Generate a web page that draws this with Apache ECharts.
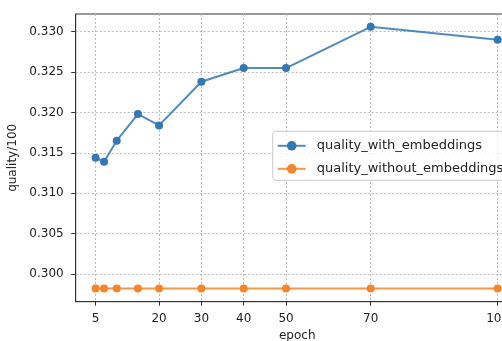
<!DOCTYPE html>
<html>
<head>
<meta charset="utf-8">
<script src="https://cdn.jsdelivr.net/npm/echarts@6/dist/echarts.min.js"></script>
<style>
  html, body { margin: 0; padding: 0; background: #fff; }
  #chart { width: 502px; height: 341px; }
</style>
</head>
<body>
<div id="chart"></div>
<script>
// epochs the runs were evaluated at
const epochs = [5, 7, 10, 15, 20, 30, 40, 50, 70, 100]
// quality/100 per epoch
const withEmb = [0.3144, 0.3139, 0.3165, 0.3198, 0.3184, 0.3238, 0.3255, 0.3255, 0.3306, 0.3290]
const withoutEmb = [0.2982, 0.2982, 0.2982, 0.2982, 0.2982, 0.2982, 0.2982, 0.2982, 0.2982, 0.2982]
// tick labels shown on the axes
const xTicks = [5, 20, 30, 40, 50, 70, 100]
const yTicks = [0.300, 0.305, 0.310, 0.315, 0.320, 0.325, 0.330]

const font = 'DejaVu Sans'
const chart = echarts.init(document.getElementById('chart'))

const pairs = (ys) => epochs.map((x, i) => [x, ys[i]])

const option = {
  animation: false,
  textStyle: { fontFamily: font },
  grid: {
    left: 75.7,
    top: 14,
    bottom: 39.3,
    right: -16.8,
    outerBoundsMode: 'none',
    containLabel: false,
    show: true,
    borderColor: '#333',
    borderWidth: 1
  },
  legend: {
    orient: 'vertical',
    left: 272.7,
    top: 131.3,
    padding: [8, 4, 5, 4],
    itemWidth: 28,
    itemHeight: 12,
    itemGap: 10,
    backgroundColor: 'rgba(255,255,255,0.8)',
    borderColor: '#ccc',
    borderWidth: 1,
    borderRadius: 3,
    textStyle: { fontFamily: font, fontSize: 13, color: '#222', padding: [0, 0, 0, 6] }
  },
  xAxis: {
    type: 'value',
    min: 0.3,
    max: 105,
    name: 'epoch',
    nameLocation: 'middle',
    nameGap: 27,
    nameTextStyle: { fontFamily: font, fontSize: 12, color: '#222' },
    axisLine: { show: true, onZero: false, lineStyle: { color: '#333', width: 1 } },
    axisTick: { show: true, length: 4, customValues: xTicks, lineStyle: { color: '#333' } },
    axisLabel: { customValues: xTicks, margin: 11, fontSize: 12, color: '#222', fontFamily: font },
    splitLine: { show: true, lineStyle: { color: '#bbb', type: [2, 2], width: 1 } }
  },
  yAxis: {
    type: 'value',
    min: 0.29657,
    max: 0.33219,
    name: 'quality/100',
    nameLocation: 'middle',
    nameGap: 52,
    nameTextStyle: { fontFamily: font, fontSize: 12, color: '#222' },
    axisLine: { show: true, onZero: false, lineStyle: { color: '#333', width: 1 } },
    axisTick: { show: true, length: 4.5, customValues: yTicks, lineStyle: { color: '#333' } },
    axisLabel: {
      customValues: yTicks,
      margin: 12,
      fontSize: 12,
      color: '#222',
      fontFamily: font,
      formatter: (v) => v.toFixed(3)
    },
    splitLine: { show: true, lineStyle: { color: '#bbb', type: [2, 2], width: 1 } }
  },
  series: [
    {
      name: 'quality_with_embeddings',
      type: 'line',
      data: pairs(withEmb),
      symbol: 'circle',
      symbolSize: 8,
      color: '#3377b5',
      lineStyle: { width: 2, opacity: 0.85 }
    },
    {
      name: 'quality_without_embeddings',
      type: 'line',
      data: pairs(withoutEmb),
      symbol: 'circle',
      symbolSize: 8,
      color: '#f5852a',
      lineStyle: { width: 2, opacity: 0.85 }
    }
  ]
}

chart.setOption(option)
</script>
</body>
</html>
